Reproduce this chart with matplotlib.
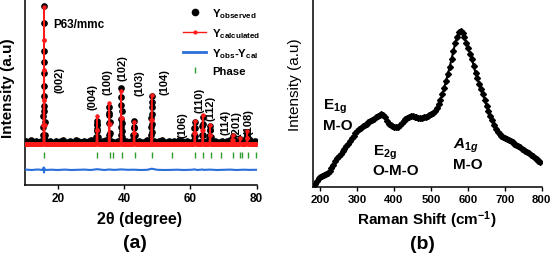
import numpy as np
import matplotlib
matplotlib.use("Agg")
import matplotlib.pyplot as plt
from matplotlib.lines import Line2D

plt.rcParams['font.family'] = ['Liberation Sans', 'DejaVu Sans']
plt.rcParams['mathtext.fontset'] = 'custom'
plt.rcParams['mathtext.rm'] = 'Liberation Sans:bold'
plt.rcParams['mathtext.bf'] = 'Liberation Sans:bold'
plt.rcParams['mathtext.it'] = 'Liberation Sans:italic:bold'

# ---------------- XRD data (panel a) ----------------
obs_base_y = [43,44,42,43,45,43,42,44,43,42,
              44,43,45,42,43,44,43,42,43,44,
              42,43,44,45,43,42,43,44,43,42,
              43,45,44,42,43,43,44,42,43,44,
              45,43,42,43,44,43,42,44,43,45,
              43,42,44,43,42,43,44,43,45,42,
              43,44,42,43,44,43,45,43,42,44,
              43,42,43,44,45,43,42,43,44,43,
              42,44,43,45,43,42,43,44,42,43,
              44,43,42,45,43,44,42,43,44,43,
              42,43,45,44,43,42,43,44,43,42,
              44,43,45,42,43,44,43,42,43,44,
              43,42,44,43,45,43,42,44,43,42,
              43,44,42,43,44,43,45,42,43,44,
              43]
obs_peak_x = [15.55,15.6,15.64,15.68,15.72,15.75,15.78,15.8,15.82,15.85,15.88,15.92,15.96,16.0,
              31.6,31.7,31.75,31.8,31.85,31.9,32.0,
              35.3,35.4,35.45,35.5,35.55,35.6,35.7,
              38.9,38.95,39.0,39.05,39.1,39.15,39.2,39.25,39.3,39.4,
              42.8,42.9,43.0,43.1,43.2,
              48.1,48.15,48.2,48.25,48.3,48.35,48.4,48.45,48.5,
              61.1,61.2,61.3,61.4,61.5,
              63.5,63.6,63.7,63.8,63.9,
              65.7,65.8,65.9,66.0,66.1,
              72.5,72.7,72.9,
              74.9,75.0,75.1,
              76.9,77.0,77.1,77.2,77.4]
obs_peak_y = [50,58,69,79,89,112,134,179,162,123,99,74,63,50,
              48,56,61,64,60,54,48,
              50,62,70,78,72,63,52,
              50,58,66,80,97,88,74,62,54,48,
              50,57,64,58,50,
              50,58,67,78,89,83,71,61,53,
              50,57,63,57,49,
              50,59,68,61,50,
              49,55,59,55,48,
              46,49,46,
              45,46,45,
              47,51,53,51,47]

calc_x = [10.0, 15.55, 15.62, 15.67, 15.72, 15.76, 15.8, 15.84, 15.88, 15.93, 15.98, 16.05,
          31.55, 31.7, 31.8, 31.9, 32.05, 35.25, 35.4, 35.5, 35.6, 35.75,
          38.85, 39.0, 39.1, 39.2, 39.35, 42.75, 42.9, 43.0, 43.1, 43.25,
          48.05, 48.2, 48.3, 48.4, 48.55, 61.05, 61.2, 61.3, 61.4, 61.55,
          63.45, 63.6, 63.7, 63.8, 63.95, 65.65, 65.8, 65.9, 66.0, 66.15,
          72.45, 72.6, 72.7, 72.8, 72.95, 74.8, 75.0, 75.2,
          76.85, 77.0, 77.1, 77.2, 77.35, 80.0]
calc_y = [40.5, 40.5, 60, 85, 115, 145, 178, 145, 115, 85, 60, 40.5,
          40.5, 55, 69, 55, 40.5, 40.5, 61, 82, 61, 40.5,
          40.5, 67, 94, 67, 40.5, 40.5, 52, 63, 52, 40.5,
          40.5, 65, 90, 65, 40.5, 40.5, 52, 64, 52, 40.5,
          40.5, 55, 70, 55, 40.5, 40.5, 50, 60, 50, 40.5,
          40.5, 45, 50, 45, 40.5, 40.5, 47, 40.5,
          40.5, 47, 54, 47, 40.5, 40.5]

diff_x = [10,12,14,15.5,15.7,15.8,15.9,16.1,18,20,22,24,26,28,30,31.8,34,35.5,37,39.1,
          41,43,45,47,48.3,50,52,54,56,58,60,61.3,62,63.7,64,65.9,68,70,72,74,76,78,80]
diff_y = [15.5,15,15.5,15,17.5,12.5,16.5,15,15.3,15,15.4,15,15.2,15.4,15,15.8,15,15.5,15.1,15.6,
          15.2,15.3,15,15.2,16.3,15.2,15,15.1,15.3,15,15.2,15.6,15,15.5,15.1,15.4,15,15.2,15.4,15,15.3,15.1,15.2]

phase_pos = [15.9,31.7,35.7,36.5,39.2,43.2,48.3,54.5,61.3,63.8,66.1,69.1,72.9,75.1,75.7,77.4,79.9]
phase_level = 30

hkl_labels = ['(002)','(004)','(100)','(102)','(103)','(104)','(106)','(110)','(112)','(114)','(201)','(108)']
hkl_x = [20.6, 30.3, 35.1, 39.6, 44.7, 52.2, 57.7, 62.8, 66.1, 70.7, 74.0, 77.6]
hkl_y = [106, 89, 104, 118, 103, 104, 61, 86, 78, 64, 62, 64]

xrd_ticks = [20, 40, 60, 80]

# ---------------- Raman data (panel b) ----------------
raman_shift = [186,191,196,201,206,211,216,221,226,231,236,241,246,251,256,261,266,271,276,281,
               286,291,296,301,306,311,316,321,326,331,336,341,346,351,356,361,366,371,376,381,
               386,391,396,401,406,411,416,421,426,431,436,441,446,451,456,461,466,471,476,481,
               486,491,496,501,506,511,516,521,526,531,536,541,546,551,556,561,566,571,576,581,
               586,591,596,601,606,611,616,621,626,631,636,641,646,651,656,661,666,671,676,681,
               686,691,696,701,706,711,716,721,726,731,736,741,746,751,756,761,766,771,776,781,
               786,791,796]
raman_int = [3,6,9,10,11,12,13,14,16,19,22,26,29,31,33,36,38,41,43,46,
             49,51,54,56,58,59,61,62,63,65,66,67,68,70,71,72,73,72,70,66,
             63,62,61,60,60,60,62,64,66,68,69,70,71,71,70,70,69,69,69,70,
             70,71,72,73,74,76,79,83,87,93,99,106,113,120,128,136,144,150,155,156,
             154,150,144,139,133,128,121,114,109,103,98,93,87,81,76,71,67,62,58,55,
             53,51,50,49,48,47,46,45,43,42,41,40,38,37,36,35,34,32,31,29,
             28,26,25]
raman_ticks = [200, 300, 400, 500, 600, 700, 800]

# ---------------- figure ----------------
fig = plt.figure(figsize=(5.5, 2.55), dpi=100)
ax1 = fig.add_axes([0.0451, 0.2706, 0.4216, 0.7294])
ax2 = fig.add_axes([0.5691, 0.2627, 0.4158, 0.7373])

for ax in (ax1, ax2):
    for s in ('top', 'right'):
        ax.spines[s].set_visible(False)
    for s in ('left', 'bottom'):
        ax.spines[s].set_linewidth(1.1)
    ax.set_yticks([])
    ax.tick_params(axis='x', direction='out', length=3, width=1.0, pad=2)

# panel a
base_x = np.linspace(10, 80, len(obs_base_y))
ox = np.concatenate([base_x, obs_peak_x])
oy = np.concatenate([obs_base_y, obs_peak_y])
ax1.plot(ox, oy, linestyle='none', marker='o', ms=3.8, color='black', zorder=2)

cx = np.array(calc_x)
cy = np.array(calc_y)
band = np.where(cy <= 41, cy, np.nan)
ax1.plot(cx, band, color='#ff1a1a', lw=3.6, solid_capstyle='butt', zorder=3)
ax1.plot(cx, cy, color='#ff1a1a', lw=1.1, marker='o', ms=2.2, zorder=4)

ax1.plot(diff_x, diff_y, color='#2a6fdb', lw=1.5, zorder=3)
ax1.plot(phase_pos, [phase_level] * len(phase_pos), linestyle='none', marker='|',
         ms=4, mew=1.0, color='#2e9e2e', zorder=3)

for t, x, y in zip(hkl_labels, hkl_x, hkl_y):
    ax1.text(x, y, t, rotation=90, ha='center', va='center', fontsize=8,
             fontweight='bold')
ax1.text(18.5, 161, 'P63/mmc', ha='left', va='center', fontsize=8.5, fontweight='bold')

ax1.set_xlim(10, 80)
ax1.set_ylim(0, 186)
ax1.set_xticks(xrd_ticks)
ax1.set_xticklabels([str(t) for t in xrd_ticks], fontweight='bold', fontsize=8.5)

handles = [
    Line2D([], [], linestyle='none', marker='o', ms=4.5, color='black'),
    Line2D([], [], color='#ff1a1a', lw=1.0, marker='o', ms=2),
    Line2D([], [], color='#2a6fdb', lw=2.0),
    Line2D([], [], linestyle='none', marker='|', ms=4, mew=1.0, color='#2e9e2e'),
]
labels = [r'Y$_{\mathrm{observed}}$', r'Y$_{\mathrm{calculated}}$',
          r'Y$_{\mathrm{obs}}$-Y$_{\mathrm{cal}}$', 'Phase']
ax1.legend(handles, labels, loc='upper left', bbox_to_anchor=(0.684, 0.962),
           frameon=False, borderpad=0, borderaxespad=0, handlelength=2.0,
           handletextpad=0.5, labelspacing=0.55,
           prop={'weight': 'bold', 'size': 8.2})

# panel b
ax2.plot(raman_shift, raman_int, color='black', lw=1.5, marker='D', ms=3.0, zorder=3)
ax2.set_xlim(181, 800)
ax2.set_ylim(0, 188)
ax2.set_xticks(raman_ticks)
ax2.set_xticklabels([str(t) for t in raman_ticks], fontweight='bold', fontsize=8.2)

ax2.text(208, 81, r'E$_{\mathrm{1g}}$', ha='left', va='center', fontsize=11, fontweight='bold')
ax2.text(208, 62, 'M-O', ha='left', va='center', fontsize=11, fontweight='bold')
ax2.text(343, 35, r'E$_{\mathrm{2g}}$', ha='left', va='center', fontsize=11, fontweight='bold')
ax2.text(343, 17, 'O-M-O', ha='left', va='center', fontsize=11, fontweight='bold')
ax2.text(560, 42, r'$\mathit{A}_{\mathit{1g}}$', ha='left', va='center', fontsize=11)
ax2.text(560, 23, 'M-O', ha='left', va='center', fontsize=11, fontweight='bold')

# axis labels and panel labels
fig.text(0.0145, 0.655, 'Intensity (a.u)', rotation=90, ha='center', va='center',
         fontsize=11, fontweight='bold')
fig.text(0.536, 0.667, 'Intensity (a.u)', rotation=90, ha='center', va='center',
         fontsize=11)
fig.text(0.2545, 0.141, '2θ (degree)', ha='center', va='center', fontsize=11.5,
         fontweight='bold')
fig.text(0.776, 0.137, r'Raman Shift (cm$^{\mathrm{-1}}$)', ha='center', va='center',
         fontsize=11, fontweight='bold')
fig.text(0.2455, 0.047, '(a)', ha='center', va='center', fontsize=14, fontweight='bold')
fig.text(0.768, 0.043, '(b)', ha='center', va='center', fontsize=14, fontweight='bold')

fig.savefig('out.png', dpi=100)
